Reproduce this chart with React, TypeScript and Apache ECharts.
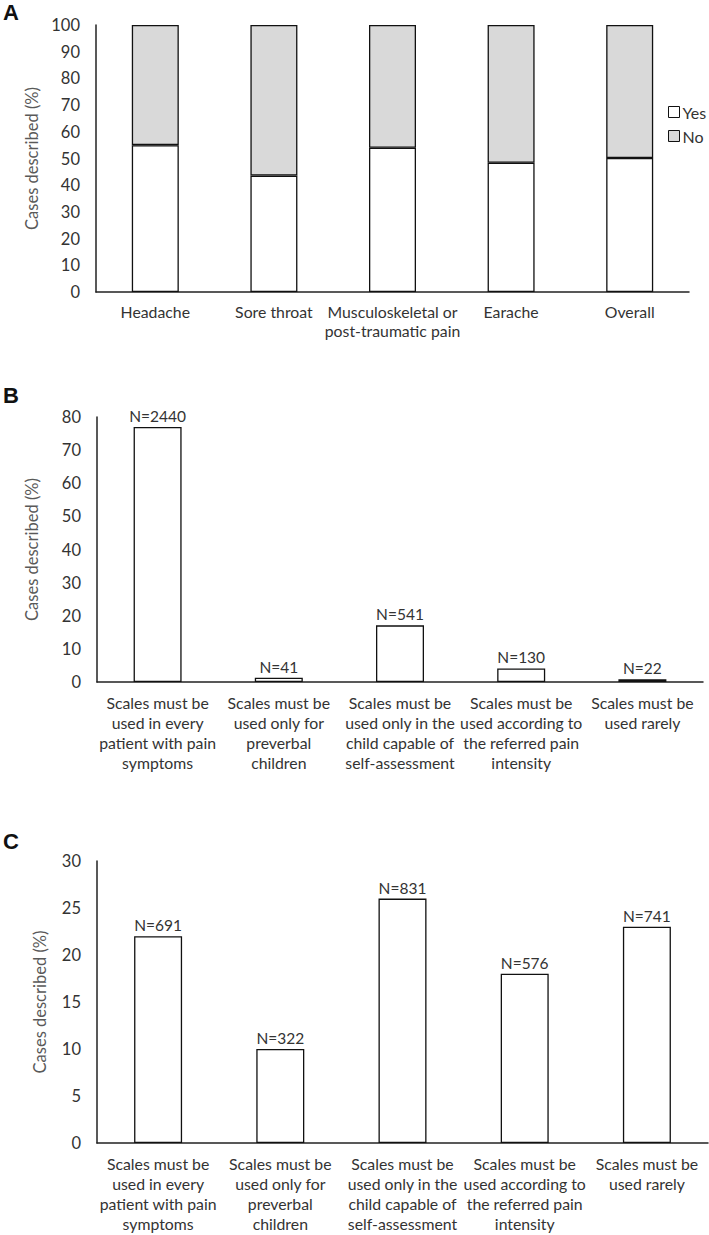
import React, { useEffect, useRef } from "react";
import * as echarts from "echarts";

// Panel A
const painCategories = [
  "Headache",
  "Sore throat",
  "Musculoskeletal or\npost-traumatic pain",
  "Earache",
  "Overall",
];
const yesValues = [55, 43.6, 54, 48.4, 50.2];
const noValues = [45, 56.4, 46, 51.6, 49.8];

// Panels B and C
const scaleCategories = [
  "Scales must be\nused in every\npatient with pain\nsymptoms",
  "Scales must be\nused only for\npreverbal\nchildren",
  "Scales must be\nused only in the\nchild capable of\nself-assessment",
  "Scales must be\nused according to\nthe referred pain\nintensity",
  "Scales must be\nused rarely",
];
const bValues = [77, 1.3, 17.1, 4.1, 0.8];
const bCounts = ["N=2440", "N=41", "N=541", "N=130", "N=22"];
const cValues = [22, 10, 26, 18, 23];
const cCounts = ["N=691", "N=322", "N=831", "N=576", "N=741"];

const yTicksA = { min: 0, max: 100, interval: 10 };
const yTicksB = { min: 0, max: 80, interval: 10 };
const yTicksC = { min: 0, max: 30, interval: 5 };

const FONT = "Lato, 'Open Sans', sans-serif";
const TEXT = "#333";

export default function App() {
  const ref = useRef<HTMLDivElement>(null);
  useEffect(() => {
    if (!ref.current) return;
    const chart = echarts.init(ref.current, undefined, { renderer: "svg" });
    const axisLine = { show: true, lineStyle: { color: "#222", width: 1.5 } };
    const yAxisBase = (ticks: any, gridIndex: number, nameGap: number) => ({
      type: "value",
      gridIndex,
      ...ticks,
      name: "Cases described (%)",
      nameLocation: "middle",
      nameGap,
      nameTextStyle: { fontFamily: FONT, fontSize: 16.5, color: "#595959" },
      axisLine,
      axisTick: { show: false },
      splitLine: { show: false },
      axisLabel: { fontFamily: FONT, fontSize: 16.5, color: TEXT, margin: 16 },
    });
    const xAxisBase = (data: string[], gridIndex: number, lh: number) => ({
      type: "category",
      gridIndex,
      data,
      axisLine,
      axisTick: { show: false },
      axisLabel: {
        interval: 0,
        fontFamily: FONT,
        fontSize: 15.8,
        color: TEXT,
        margin: 10,
        lineHeight: lh,
      },
    });
    const barStyle = (color: string) => ({ color, borderColor: "#111", borderWidth: 1.3 });
    const nLabel = (counts: string[]) => ({
      show: true,
      position: "top",
      distance: 3,
      fontFamily: FONT,
      fontSize: 15.5,
      color: TEXT,
      formatter: (p: any) => counts[p.dataIndex],
    });

    chart.setOption({
      animation: false,
      backgroundColor: "#fff",
      grid: [
        { left: 96, top: 25, width: 593, height: 267 },
        { left: 97, top: 417, width: 606, height: 265 },
        { left: 97, top: 861, width: 611, height: 282 },
      ],
      legend: {
        orient: "vertical",
        left: 663,
        top: 99,
        itemWidth: 11,
        itemHeight: 11,
        itemGap: 8,
        textStyle: { fontFamily: FONT, fontSize: 16, color: TEXT, padding: [0, 0, 0, -2] },
        data: [
          { name: "Yes", icon: "rect", itemStyle: { color: "#fff", borderColor: "#111", borderWidth: 1 } },
          { name: "No", icon: "rect", itemStyle: { color: "#d9d9d9", borderColor: "#111", borderWidth: 1 } },
        ],
      },
      xAxis: [
        xAxisBase(painCategories, 0, 19),
        xAxisBase(scaleCategories, 1, 20),
        xAxisBase(scaleCategories, 2, 20),
      ],
      yAxis: [yAxisBase(yTicksA, 0, 56), yAxisBase(yTicksB, 1, 57), yAxisBase(yTicksC, 2, 49)],
      series: [
        {
          name: "Yes",
          type: "bar",
          stack: "a",
          xAxisIndex: 0,
          yAxisIndex: 0,
          barWidth: 47,
          data: yesValues,
          itemStyle: barStyle("#ffffff"),
        },
        {
          name: "No",
          type: "bar",
          stack: "a",
          xAxisIndex: 0,
          yAxisIndex: 0,
          barWidth: 47,
          data: noValues,
          itemStyle: barStyle("#d9d9d9"),
        },
        {
          name: "B",
          type: "bar",
          xAxisIndex: 1,
          yAxisIndex: 1,
          barWidth: 48,
          data: bValues,
          itemStyle: barStyle("#ffffff"),
          label: nLabel(bCounts),
        },
        {
          name: "C",
          type: "bar",
          xAxisIndex: 2,
          yAxisIndex: 2,
          barWidth: 48,
          data: cValues,
          itemStyle: barStyle("#ffffff"),
          label: nLabel(cCounts),
        },
      ],
      graphic: [
        { type: "text", left: 3, top: 1, style: { text: "A", fontFamily: "'Liberation Sans', Arial, sans-serif", fontWeight: "bold", fontSize: 22, fill: "#111" } },
        { type: "text", left: 3, top: 384, style: { text: "B", fontFamily: "'Liberation Sans', Arial, sans-serif", fontWeight: "bold", fontSize: 22, fill: "#111" } },
        { type: "text", left: 3, top: 830, style: { text: "C", fontFamily: "'Liberation Sans', Arial, sans-serif", fontWeight: "bold", fontSize: 22, fill: "#111" } },
      ],
    });
    return () => chart.dispose();
  }, []);
  return (
    <div
      ref={ref}
      style={{ position: "absolute", left: 0, top: 0, width: 709, height: 1235, background: "#fff" }}
    />
  );
}
